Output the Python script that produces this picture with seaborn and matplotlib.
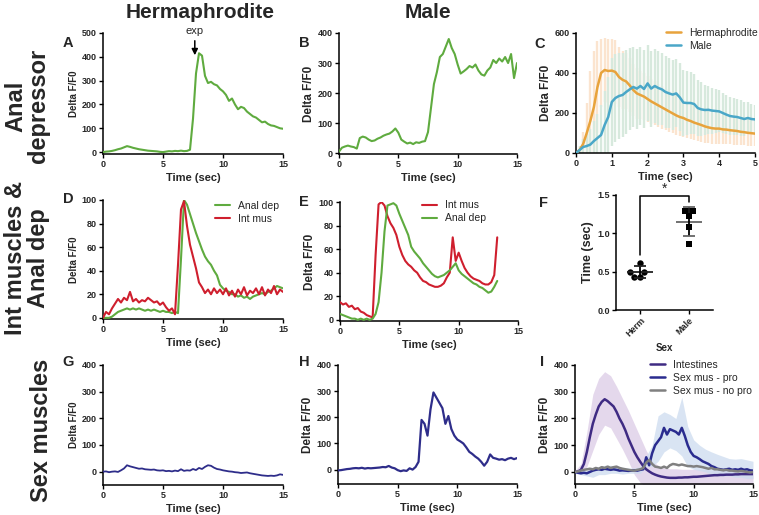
import numpy as np
import pandas as pd
import seaborn as sns
import matplotlib.pyplot as plt

# ---------------------------------------------------------------------------
# data
# ---------------------------------------------------------------------------
T15 = np.arange(0, 15.01, 0.25)      # 0..15 s, 61 samples
T_E = np.arange(0, 13.26, 0.25)      # male int mus / anal dep recording ends ~13.3 s
T_C = np.arange(0, 5.01, 0.1)        # averaged anal depressor traces
T_BAND = np.arange(0, 15.01, 0.5)    # error bands in panel I

# A - hermaphrodite anal depressor
herm_anal = [0, 2, 3, 5, 8, 12, 15, 20, 25, 22, 18, 15, 12, 10, 8, 6, 5, 4, 3, 1,
             0, 2, 4, 3, 5, 4, 6, 4, 5, 10, 140, 330, 415, 405, 320, 290, 295, 285, 280, 265,
             255, 240, 215, 225, 200, 180, 190, 185, 170, 160, 150, 145, 135, 125, 128, 118, 112, 110, 105, 100, 98]
# B - male anal depressor
male_anal = [5, 18, 22, 25, 22, 20, 15, 50, 55, 52, 45, 40, 42, 48, 52, 58, 62, 65, 72, 82,
             68, 45, 38, 32, 35, 30, 36, 34, 38, 40, 70, 150, 230, 270, 320, 330, 355, 380, 350, 330,
             295, 265, 272, 280, 290, 285, 295, 275, 262, 258, 275, 285, 310, 300, 315, 305, 320, 300, 330, 250, 300]

# C - averages with SD
herm_mean = [0, 15, 45, 100, 160, 230, 330, 400, 415, 410,
             412, 405, 380, 366, 358, 338, 315, 298, 290, 282,
             270, 258, 248, 238, 228, 218, 208, 198, 188, 180,
             175, 166, 160, 152, 146, 140, 133, 128, 124, 122,
             122, 118, 117, 114, 112, 110, 106, 104, 101, 99, 97]
herm_sd = [5, 20, 60, 150, 250, 280, 230, 170, 160, 160,
           160, 158, 152, 145, 140, 135, 130, 126, 122, 118,
           115, 112, 110, 108, 106, 104, 102, 100, 98, 96,
           94, 92, 90, 88, 86, 84, 82, 80, 78, 76,
           75, 74, 72, 71, 70, 68, 67, 66, 65, 64, 63]
male_mean = [0, 15, 30, 35, 42, 60, 75, 90, 140, 180,
             255, 275, 285, 290, 305, 318, 330, 322, 335, 320,
             348, 322, 335, 325, 318, 305, 298, 292, 298, 278,
             252, 250, 250, 245, 225, 218, 215, 216, 212, 210,
             208, 200, 192, 185, 182, 180, 175, 170, 175, 170, 168]
male_sd = [5, 20, 40, 60, 80, 100, 120, 150, 170, 200,
           220, 220, 215, 210, 210, 205, 200, 200, 195, 195,
           190, 190, 185, 185, 180, 180, 175, 175, 170, 170,
           165, 160, 155, 150, 140, 135, 125, 120, 115, 110,
           105, 100, 98, 95, 92, 90, 88, 85, 80, 75, 72]

# D - hermaphrodite, normalised
herm_dep = [0, 0, 0, 1, 3, 5, 6, 7, 8, 7, 8, 7, 8, 7, 6, 7, 6, 7, 6, 5,
            6, 5, 5, 4, 5, 4, 50, 100, 96, 88, 80, 72, 65, 58, 52, 48, 45, 40, 36, 28,
            25, 23, 22, 20, 20, 18, 19, 17, 18, 16, 18, 19, 20, 21, 20, 22, 23, 25, 27, 26, 25]
herm_int = [0, 5, 3, 8, 12, 16, 13, 17, 15, 22, 14, 16, 13, 15, 14, 17, 15, 13, 14, 11,
            13, 9, 6, 8, 3, 45, 92, 99, 78, 62, 52, 42, 30, 26, 21, 24, 20, 25, 21, 24,
            20, 25, 19, 23, 18, 24, 20, 26, 19, 23, 21, 25, 20, 26, 19, 24, 21, 27, 20, 24, 22]

# E - male, normalised
male_int = [15, 13, 14, 11, 12, 9, 10, 7, 6, 4,
            3, 2, 55, 98, 100, 97, 88, 82, 78, 72,
            62, 55, 50, 47, 45, 42, 40, 36, 33, 32,
            30, 29, 28, 28, 29, 31, 36, 40, 70, 50,
            57, 50, 44, 40, 37, 35, 34, 33, 31, 30,
            30, 32, 38, 70]
male_dep = [5, 4, 3, 2, 1, 1, 0, 1, 0, 1,
            0, 1, 5, 15, 40, 75, 97, 98, 99, 97,
            90, 84, 78, 72, 62, 58, 55, 52, 48, 45,
            42, 39, 37, 36, 37, 38, 40, 42, 45, 48,
            42, 39, 37, 35, 33, 31, 30, 28, 27, 25,
            23, 24, 28, 33]

# F - time to peak
herm_time = [0.617, 0.50, 0.50, 0.43, 0.43]
male_time = [1.296, 1.296, 1.23, 1.087, 0.86]

# G / H - sex muscles
herm_sex = [0, 1, -2, 0, 1, -1, 5, 12, 24, 20, 17, 14, 11, 12, 9, 8, 7, 8, 5, 4,
            5, 2, 3, 1, 4, 2, 9, 3, 5, 4, 10, 6, 14, 10, 18, 24, 22, 15, 10, 8,
            5, 3, 1, 0, -2, -3, -5, -4, -3, -6, -8, -10, -12, -14, -15, -16, -15, -16, -14, -10, -12]
male_sex = [-3, -2, 0, 2, 3, 5, 6, 5, 7, 4, 6, 5, 6, 7, 8, 10, 9, 14, 8, 5,
            -2, -6, -3, -5, 5, 0, 10, 30, 190, 175, 130, 230, 295, 275, 255, 235, 175, 205, 155, 130,
            115, 108, 100, 85, 68, 60, 50, 42, 30, 15, 30, 58, 45, 42, 38, 40, 36, 42, 45, 40, 44]

# I - averages
intestines = [0, 2, 8, 30, 75, 130, 180, 215, 245, 262,
              272, 265, 255, 245, 225, 200, 180, 155, 125, 100,
              75, 55, 38, 22, 10, 2, -5, -10, -14, -17,
              -19, -21, -22, -22, -22, -21, -21, -20, -20, -19,
              -18, -18, -17, -16, -15, -14, -13, -12, -12, -11,
              -11, -10, -10, -10, -9, -9, -8, -8, -8, -8, -8]
sex_pro = [0, -3, -5, -3, -5, 0, 5, 8, 10, 8,
           12, 10, 8, 10, 8, 5, 6, 5, 4, 5,
           6, 5, 8, 10, 55, 25, 70, 100, 115, 130,
           165, 140, 160, 155, 150, 140, 165, 135, 100, 75,
           60, 55, 48, 40, 35, 30, 22, 18, 12, 10,
           8, 10, 12, 8, 10, 8, 12, 8, 10, 6, 5]
sex_nopro = [0, 2, 5, 8, 10, 12, 10, 15, 12, 18,
             15, 20, 15, 18, 20, 15, 12, 10, 8, 6,
             5, 8, 10, 15, 35, 45, 30, 20, 18, 15,
             20, 15, 25, 30, 28, 25, 28, 25, 22, 22,
             20, 22, 20, 18, 15, 12, 15, 10, 10, 8,
             6, 8, 5, 5, 3, 2, 4, 2, 0, -2, 0]
int_upper = [5, 30, 150, 290, 350, 375, 360, 320, 275, 230,
             180, 130, 80, 40, 25, 15, 12, 12, 10, 10,
             10, 10, 10, 8, 8, 8, 8, 8, 6, 6, 5]
int_lower = [-5, -5, 20, 80, 140, 175, 165, 125, 85, 40,
             -10, -40, -55, -60, -60, -58, -55, -55, -55, -52,
             -50, -50, -50, -48, -48, -48, -45, -45, -45, -45, -45]
pro_upper = [5, 5, 8, 15, 20, 25, 25, 22, 18, 15,
             15, 20, 60, 100, 210, 225, 215, 200, 280, 170,
             120, 100, 85, 75, 66, 58, 50, 48, 50, 45, 40]
pro_lower = [-5, -10, -15, -20, -10, -10, -5, -5, -8, -5,
             -5, -5, 20, 20, 40, 75, 90, 80, 60, 20,
             10, 5, 0, -10, -15, -15, -15, -20, -20, -25, -25]

# ---------------------------------------------------------------------------
# style
# ---------------------------------------------------------------------------
GREEN = "#5fab3f"
RED = "#cf1f2e"
ORANGE = "#e8a33c"
CYAN = "#4aa7c8"
NAVY = "#2e2d8a"
PURPLE = "#3f2b83"
GREY = "#808080"

W, H = 759, 515
sns.set_style("ticks")
plt.rcParams["font.family"] = ["Liberation Sans", "DejaVu Sans"]
plt.rcParams["font.weight"] = "bold"
plt.rcParams["axes.labelweight"] = "bold"

fig = plt.figure(figsize=(W / 100, H / 100), dpi=100)


def place(x0, x1, ytop, ybot):
    return fig.add_axes([x0 / W, 1 - ybot / H, (x1 - x0) / W, (ybot - ytop) / H])


def style(ax, xticks, yticks, ysize=8.5, xlabel="Time (sec)", ylabel="Delta F/F0"):
    sns.despine(ax=ax)
    ax.set_xticks(xticks)
    ax.set_yticks(yticks)
    ax.tick_params(labelsize=6.5, length=3, width=1, pad=1.5, color="black")
    for sp in ax.spines.values():
        sp.set_linewidth(1.1)
        sp.set_color("black")
    ax.set_xlabel(xlabel, fontsize=8, labelpad=3)
    ax.set_ylabel(ylabel, fontsize=ysize, labelpad=2)


def trace(ax, t, y, color, label=None, lw=1.5):
    sns.lineplot(x=t, y=y, ax=ax, color=color, linewidth=lw, label=label, zorder=3)


def legend(ax, anchor):
    ax.legend(frameon=False, loc="upper left", bbox_to_anchor=anchor,
              prop={"size": 7.5, "weight": "normal"}, handlelength=1.4,
              handletextpad=0.8, labelspacing=0.3, borderaxespad=0)


# ---------------------------------------------------------------------------
# row 1
# ---------------------------------------------------------------------------
axA = place(103, 283, 33, 154)
trace(axA, T15, herm_anal, GREEN)
axA.set(xlim=(0, 15), ylim=(-8, 500))
style(axA, [0, 5, 10, 15], [0, 100, 200, 300, 400, 500], ysize=7)
axA.annotate("exp", xy=(7.65, 395), xytext=(7.65, 508), ha="center", va="center",
             fontsize=8, fontweight="normal", annotation_clip=False,
             arrowprops=dict(arrowstyle="-|>", color="black", lw=1.1, mutation_scale=9,
                             shrinkA=1))

axB = place(339, 517, 33, 154)
trace(axB, T15, male_anal, GREEN)
axB.set(xlim=(0, 15), ylim=(-3, 400))
style(axB, [0, 5, 10, 15], [0, 100, 200, 300, 400])

axC = place(576, 755, 33, 153)
hm, hs = np.array(herm_mean), np.array(herm_sd)
mm, ms = np.array(male_mean), np.array(male_sd)
axC.vlines(T_C, hm - hs, hm + hs, colors="#fbe4cf", linewidth=1.7, zorder=1)
axC.vlines(T_C, mm - ms, mm + ms, colors="#d7e9dd", linewidth=1.7, zorder=2)
trace(axC, T_C, herm_mean, ORANGE, "Hermaphrodite", lw=1.8)
trace(axC, T_C, male_mean, CYAN, "Male", lw=1.8)
axC.set(xlim=(0, 5), ylim=(0, 600))
style(axC, [0, 1, 2, 3, 4, 5], [0, 200, 400, 600])
legend(axC, (0.48, 1.08))

# ---------------------------------------------------------------------------
# row 2
# ---------------------------------------------------------------------------
axD = place(103, 283, 200, 319)
trace(axD, T15, herm_dep, GREEN, "Anal dep")
trace(axD, T15, herm_int, RED, "Int mus")
axD.set(xlim=(0, 15), ylim=(-1, 100))
style(axD, [0, 5, 10, 15], [0, 20, 40, 60, 80, 100], ysize=7)
legend(axD, (0.6, 1.03))

axE = place(340, 518, 202, 321)
trace(axE, T_E, male_int, RED, "Int mus")
trace(axE, T_E, male_dep, GREEN, "Anal dep")
axE.set(xlim=(0, 15), ylim=(-1, 100))
style(axE, [0, 5, 10, 15], [0, 20, 40, 60, 80, 100])
legend(axE, (0.44, 1.05))

axF = place(616, 713, 195, 310)
peak = pd.DataFrame({"Sex": ["Herm"] * len(herm_time) + ["Male"] * len(male_time),
                     "Time": herm_time + male_time})
sns.swarmplot(data=peak[peak["Sex"] == "Herm"], x="Sex", y="Time", order=["Herm", "Male"],
              marker="o", color="black", size=4.6, ax=axF, zorder=3)
sns.swarmplot(data=peak[peak["Sex"] == "Male"], x="Sex", y="Time", order=["Herm", "Male"],
              marker="s", color="black", size=4.6, ax=axF, zorder=3)
stats = peak.groupby("Sex")["Time"].agg(["mean", "std"])
for i, (sex, mcol) in enumerate([("Herm", "#222222"), ("Male", "#666666")]):
    m, s = stats.loc[sex, "mean"], stats.loc[sex, "std"]
    axF.hlines(m, i - 0.27, i + 0.27, colors=mcol, linewidth=1.3, zorder=4)
    axF.vlines(i, m - s, m + s, colors="black", linewidth=1.3, zorder=4)
    axF.hlines([m - s, m + s], i - 0.12, i + 0.12, colors=mcol, linewidth=1.3, zorder=4)
axF.plot([0, 0, 1, 1], [0.72, 1.49, 1.49, 1.41], color="black", lw=1.1, clip_on=False)
axF.text(0.5, 1.49, "*", ha="center", va="bottom", fontsize=10, fontweight="normal")
axF.set(xlim=(-0.5, 1.5), ylim=(0, 1.5))
style(axF, [0, 1], [0, 0.5, 1.0, 1.5], ysize=9, xlabel="Sex", ylabel="Time (sec)")
axF.set_yticklabels(["0.0", "0.5", "1.0", "1.5"])
axF.set_xticklabels(["Herm", "Male"], rotation=45, ha="right", rotation_mode="anchor")
axF.xaxis.label.set_size(7)

# ---------------------------------------------------------------------------
# row 3
# ---------------------------------------------------------------------------
axG = place(103, 283, 365, 485)
trace(axG, T15, herm_sex, NAVY, lw=1.3)
axG.set(xlim=(0, 15), ylim=(-50, 400))
style(axG, [0, 5, 10, 15], [0, 100, 200, 300, 400], ysize=7)

axH = place(338, 517, 365, 484)
trace(axH, T15, male_sex, NAVY, lw=1.6)
axH.set(xlim=(0, 15), ylim=(-55, 400))
style(axH, [0, 5, 10, 15], [0, 100, 200, 300, 400])

axI = place(575, 753, 365, 484)
axI.fill_between(T_BAND, int_lower, int_upper, color="#dccbe6", alpha=0.75, lw=0, zorder=1)
axI.fill_between(T_BAND, pro_lower, pro_upper, color="#cddcef", alpha=0.75, lw=0, zorder=1)
trace(axI, T15, intestines, PURPLE, "Intestines", lw=1.8)
trace(axI, T15, sex_pro, "#2a2c8f", "Sex mus - pro", lw=1.8)
trace(axI, T15, sex_nopro, GREY, "Sex mus - no pro", lw=1.8)
axI.set(xlim=(0, 15), ylim=(-45, 400))
style(axI, [0, 5, 10, 15], [0, 100, 200, 300, 400])
legend(axI, (0.4, 1.08))

# ---------------------------------------------------------------------------
# titles, row labels, panel letters
# ---------------------------------------------------------------------------
def ftext(x, y, s, **kw):
    fig.text(x / W, 1 - y / H, s, **kw)


ftext(200, 12, "Hermaphrodite", fontsize=15, ha="center", va="center")
ftext(428, 12, "Male", fontsize=15, ha="center", va="center")
ftext(27, 106, "Anal\ndepressor", fontsize=17, rotation=90, ha="center", va="center",
      linespacing=1.0)
ftext(27, 258, "Int muscles &\nAnal dep", fontsize=17, rotation=90, ha="center",
      va="center", linespacing=1.0)
ftext(42, 430, "Sex muscles", fontsize=17, rotation=90, ha="center", va="center")

for letter, x, y in [("A", 68, 43), ("B", 304, 43), ("C", 540, 44),
                     ("D", 68, 199), ("E", 304, 202), ("F", 543, 203),
                     ("G", 68, 362), ("H", 304, 362), ("I", 542, 362)]:
    ftext(x, y, letter, fontsize=10.5, ha="center", va="center")

fig.savefig("out.png", dpi=100)
